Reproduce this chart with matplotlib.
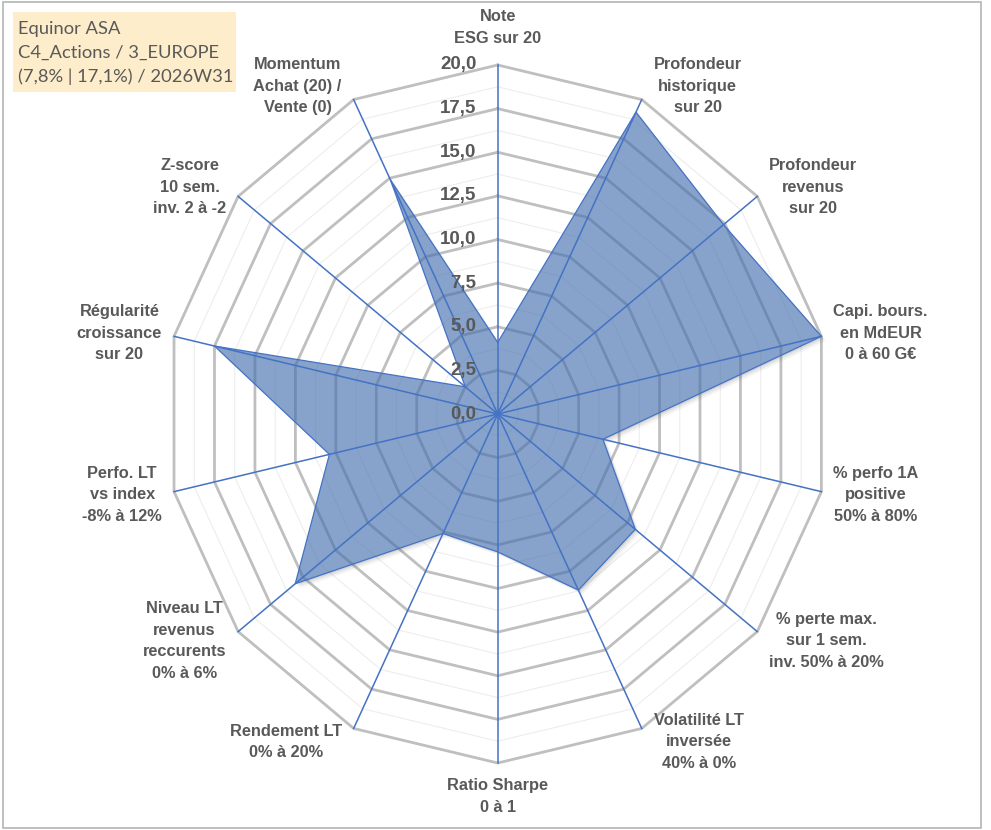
import matplotlib
matplotlib.use("Agg")
import matplotlib.pyplot as plt
import numpy as np
from matplotlib.patches import Rectangle, Polygon, PathPatch
from matplotlib.path import Path

# --- data ---
categories = [
    "Note\nESG sur 20",
    "Profondeur\nhistorique\nsur 20",
    "Profondeur\nrevenus\nsur 20",
    "Capi. bours.\nen MdEUR\n0 à 60 G€",
    "% perfo 1A\npositive\n50% à 80%",
    "% perte max.\nsur 1 sem.\ninv. 50% à 20%",
    "Volatilité LT\ninversée\n40% à 0%",
    "Ratio Sharpe\n0 à 1",
    "Rendement LT\n0% à 20%",
    "Niveau LT\nrevenus\nreccurents\n0% à 6%",
    "Perfo. LT\nvs index\n-8% à 12%",
    "Régularité\ncroissance\nsur 20",
    "Z-score\n10 sem.\ninv. 2 à -2",
    "Momentum\nAchat (20) /\nVente (0)",
]
scores = [4.1, 19.2, 17.4, 20.0, 6.5, 10.6, 11.2, 7.9, 7.6, 15.6, 10.4, 17.5, 2.5, 14.9]
ticks = [0, 2.5, 5, 7.5, 10, 12.5, 15, 17.5, 20]
title_lines = ["Equinor ASA", "C4_Actions / 3_EUROPE", "(7,8% | 17,1%) / 2026W31"]

RMAX = 20
W, H = 991, 830
CX, CY = 497.7, 414      # centre in pixels
RX, RY = 332, 349        # pixel radius of the 20 ring (Excel stretch)

GRID = "#BFBFBF"
MINOR = "#EDEDED"
SPOKE = "#4472C4"
FILL = "#4470AE"
TXT = "#595959"

fig = plt.figure(figsize=(W / 100, H / 100), dpi=100)
ax = fig.add_axes([0, 0, 1, 1])
ax.set_xlim(-CX / RX * RMAX, (W - CX) / RX * RMAX)
ax.set_ylim(-(H - CY) / RY * RMAX, CY / RY * RMAX)
ax.axis("off")

n = len(categories)
theta = 2 * np.pi * np.arange(n) / n
sx, sy = np.sin(theta), np.cos(theta)

def ring(r):
    return np.append(r * sx, r * sx[0]), np.append(r * sy, r * sy[0])

# minor rings
for r in np.arange(1.25, RMAX, 2.5):
    xs, ys = ring(r)
    ax.plot(xs, ys, color=MINOR, lw=0.8, zorder=1)
# major rings
for r in ticks[1:]:
    xs, ys = ring(r)
    ax.plot(xs, ys, color=GRID, lw=2.0, zorder=2, solid_joinstyle="miter")

# filled series
vals = np.array(scores)
pts = np.column_stack([vals * sx, vals * sy])

# soft drop shadow, only outside the shape
outer = np.array([[-100, -100], [100, -100], [100, 100], [-100, 100], [-100, -100]])
inner = np.vstack([pts, pts[:1]])
hole = Path(np.vstack([outer, inner]),
            [Path.MOVETO] + [Path.LINETO] * 3 + [Path.CLOSEPOLY]
            + [Path.MOVETO] + [Path.LINETO] * (n - 1) + [Path.CLOSEPOLY])
clip = PathPatch(hole, transform=ax.transData, visible=False)
ax.add_patch(clip)
for k, a in ((1.5, 0.10), (3, 0.08), (4.5, 0.05)):
    sh = Polygon(pts + [k * RMAX / RX, -k * RMAX / RY], closed=True,
                 facecolor="#404040", alpha=a, edgecolor="none", zorder=2.5)
    ax.add_patch(sh)
    sh.set_clip_path(clip)

ax.add_patch(Polygon(pts, closed=True, facecolor=FILL, alpha=0.64,
                     edgecolor="none", zorder=3))
ax.add_patch(Polygon(pts, closed=True, facecolor="none",
                     edgecolor=SPOKE, lw=0.9, zorder=5))

# spokes
for x1, y1 in zip(sx, sy):
    ax.plot([0, RMAX * x1], [0, RMAX * y1], color=SPOKE, lw=1.1, zorder=4)

# radial tick labels
for t in ticks:
    ax.annotate(f"{t:.1f}".replace(".", ","), (0, t), xytext=(-21, 0),
                textcoords="offset pixels", ha="right", va="center",
                fontsize=13.5, fontweight="bold", color=TXT,
                family="Liberation Sans", zorder=6)

# category labels
for lab, x1, y1 in zip(categories, sx, sy):
    if abs(x1) < 1e-6:
        up = y1 > 0
        ax.annotate(lab, (RMAX * x1, RMAX * y1), xytext=(0, 19 if up else -15),
                    textcoords="offset pixels", ha="center",
                    va="bottom" if up else "top", multialignment="center",
                    fontsize=11.8, fontweight="bold", color=TXT,
                    family="Liberation Sans", linespacing=1.55)
    else:
        side = 1 if x1 > 0 else -1
        ax.annotate(lab, (RMAX * x1, RMAX * y1), xytext=(12 * side, 15 * y1),
                    textcoords="offset pixels",
                    ha="left" if side > 0 else "right", va="center",
                    multialignment="center", fontsize=11.8, fontweight="bold",
                    color=TXT, family="Liberation Sans", linespacing=1.55)

# title box
fig.patches.append(Rectangle((13 / W, 1 - 92 / H), 223 / W, 80 / H,
                             transform=fig.transFigure, facecolor="#FDEDCB",
                             edgecolor="none", zorder=0))
fig.text(18 / W, 1 - 53 / H, "\n".join(title_lines), ha="left", va="center",
         fontsize=13.2, color=TXT, family="Lato", linespacing=1.6)

# outer frame
fig.patches.append(Rectangle((2.5 / W, 1 - 828 / H), 978.5 / W, 825.5 / H,
                             transform=fig.transFigure, facecolor="none",
                             edgecolor="#B4B4B4", lw=1.2))

fig.savefig("out.png", dpi=100)
